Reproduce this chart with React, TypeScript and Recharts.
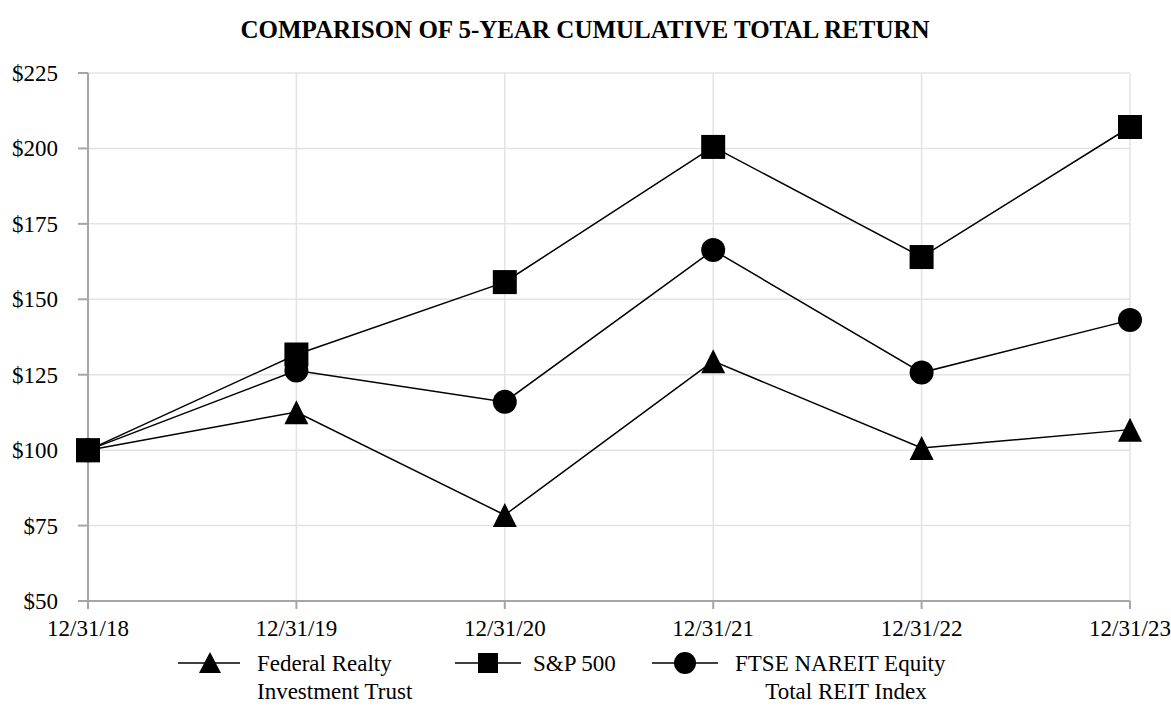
import React from "react";
import {
  LineChart,
  Line,
  XAxis,
  YAxis,
  CartesianGrid,
} from "recharts";

const dates = ["12/31/18", "12/31/19", "12/31/20", "12/31/21", "12/31/22", "12/31/23"];
const federalRealty = [100, 112.6, 78.5, 129.5, 100.7, 106.8];
const sp500 = [100, 131.7, 155.7, 200.5, 164, 207.1];
const ftseNareit = [100, 126.4, 116, 166.3, 125.7, 143.1];
const yTicks = [50, 75, 100, 125, 150, 175, 200, 225];

const data = dates.map((date, i) => ({
  date,
  frt: federalRealty[i],
  sp: sp500[i],
  ftse: ftseNareit[i],
}));

const FONT = '"Liberation Serif", "Times New Roman", serif';
const AXIS = "#a6a6a6";
const GRID = "#e3e3e3";

function Triangle(props: any) {
  const { cx, cy, key } = props;
  if (cx == null || cy == null) return null;
  const s = 12;
  return (
    <path
      key={key}
      d={`M${cx},${cy - s} L${cx + s},${cy + s} L${cx - s},${cy + s} Z`}
      fill="#000"
    />
  );
}

function Square(props: any) {
  const { cx, cy, key } = props;
  if (cx == null || cy == null) return null;
  return <rect key={key} x={cx - 12} y={cy - 12} width={24} height={24} fill="#000" />;
}

function Circle(props: any) {
  const { cx, cy, key } = props;
  if (cx == null || cy == null) return null;
  return <circle key={key} cx={cx} cy={cy} r={12} fill="#000" />;
}

function XTick(props: any) {
  const { x, y, payload } = props;
  return (
    <text x={x} y={y + 17} textAnchor="middle" fontFamily={FONT} fontSize={23} fill="#000">
      {payload.value}
    </text>
  );
}

function YTick(props: any) {
  const { x, y, payload } = props;
  return (
    <text x={x} y={y + 8} textAnchor="end" fontFamily={FONT} fontSize={23} fill="#000">
      {`$${payload.value}`}
    </text>
  );
}

function Overlay() {
  return (
    <svg
      width={1171}
      height={728}
      style={{ position: "absolute", left: 0, top: 0, pointerEvents: "none" }}
      fontFamily={FONT}
    >
      <text x={585} y={38} textAnchor="middle" fontSize={25} fontWeight="bold" fill="#000">
        COMPARISON OF 5-YEAR CUMULATIVE TOTAL RETURN
      </text>

      {/* legend */}
      <line x1={178} x2={240} y1={663} y2={663} stroke="#000" strokeWidth={1.5} />
      <path d="M210,652 L221,673 L199,673 Z" fill="#000" />
      <text x={257} y={671} fontSize={23} fill="#000">Federal Realty</text>
      <text x={257} y={699} fontSize={23} fill="#000">Investment Trust</text>

      <line x1={455} x2={521} y1={663} y2={663} stroke="#000" strokeWidth={1.5} />
      <rect x={478} y={653} width={20} height={20} fill="#000" />
      <text x={533} y={671} fontSize={23} fill="#000">S&amp;P 500</text>

      <line x1={652} x2={718} y1={663} y2={663} stroke="#000" strokeWidth={1.5} />
      <circle cx={685} cy={663} r={11} fill="#000" />
      <text x={735} y={671} fontSize={23} fill="#000">FTSE NAREIT Equity</text>
      <text x={846} y={699} fontSize={23} fill="#000" textAnchor="middle">Total REIT Index</text>
    </svg>
  );
}

export default function App() {
  return (
    <div
      style={{
        position: "absolute",
        left: 0,
        top: 0,
        width: 1171,
        height: 728,
        background: "#fff",
        fontFamily: FONT,
      }}
    >
      <LineChart
        width={1171}
        height={728}
        data={data}
        margin={{ top: 73, right: 41, bottom: 97, left: 18 }}
      >
        <CartesianGrid stroke={GRID} strokeWidth={1.5} vertical horizontal />
        <XAxis
          dataKey="date"
          height={30}
          interval={0}
          stroke={AXIS}
          strokeWidth={2}
          tickSize={8}
          tickMargin={10}
          tick={<XTick />}
        />
        <YAxis
          domain={[50, 225]}
          ticks={yTicks}
          width={70}
          interval={0}
          stroke={AXIS}
          strokeWidth={2}
          tickSize={10}
          tickMargin={20}
          tick={<YTick />}
        />
        <Line
          dataKey="frt"
          stroke="#000"
          strokeWidth={1.5}
          dot={Triangle}
          activeDot={false}
          isAnimationActive={false}
        />
        <Line
          dataKey="ftse"
          stroke="#000"
          strokeWidth={1.5}
          dot={Circle}
          activeDot={false}
          isAnimationActive={false}
        />
        <Line
          dataKey="sp"
          stroke="#000"
          strokeWidth={1.5}
          dot={Square}
          activeDot={false}
          isAnimationActive={false}
        />
      </LineChart>
      <Overlay />
    </div>
  );
}
